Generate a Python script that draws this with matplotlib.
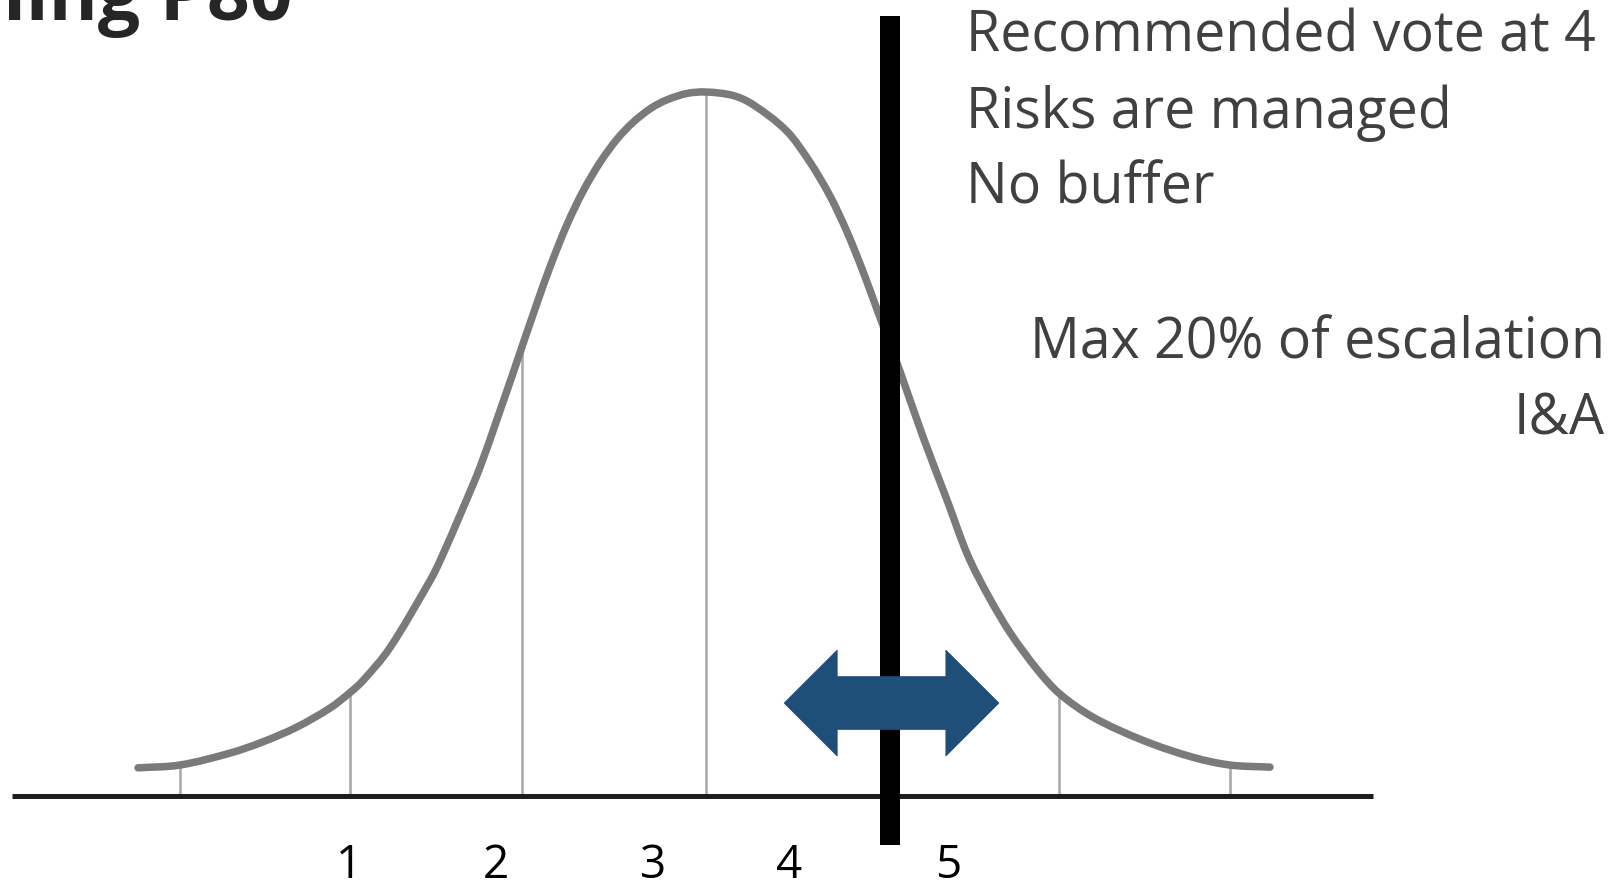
import numpy as np
import matplotlib
matplotlib.use("Agg")
import matplotlib.pyplot as plt
from matplotlib.patches import Polygon, PathPatch
from matplotlib.path import Path

# ---- data (x in standard deviations from the mean, y relative density: peak = 1) ----
curve_x = [-3.209, -2.972, -2.689, -2.503, -2.311, -2.124, -2.011, -1.938, -1.785,
           -1.559, -1.503, -1.373, -1.277, -1.181, -1.090, -1.040, -0.955, -0.881,
           -0.785, -0.695, -0.599, -0.503, -0.412, -0.311, -0.220, -0.107, 0.0,
           0.153, 0.266, 0.458, 0.588, 0.701, 0.797, 0.887, 0.972, 1.096, 1.226,
           1.362, 1.475, 1.593, 1.718, 1.870, 1.994, 2.186, 2.469, 2.751, 2.960, 3.186]
curve_y = [0.040, 0.044, 0.061, 0.077, 0.098, 0.125, 0.147, 0.164, 0.211,
           0.306, 0.334, 0.409, 0.467, 0.535, 0.601, 0.638, 0.700, 0.752,
           0.812, 0.859, 0.900, 0.933, 0.957, 0.977, 0.989, 0.998, 1.000,
           0.995, 0.982, 0.944, 0.900, 0.852, 0.801, 0.745, 0.687, 0.603, 0.510,
           0.420, 0.344, 0.285, 0.232, 0.180, 0.146, 0.112, 0.079, 0.055, 0.044, 0.041]
grid_x = [-2.972, -2.011, -1.040, 0.0, 1.040, 1.994, 2.960]
tick_pos = [-2.017, -1.186, -0.299, 0.469, 1.367]
tick_labels = ["1", "2", "3", "4", "5"]
threshold_x = 1.04
arrow_half_span = 0.607
arrow_y = 0.132
title = "Planning P80"
notes_left = ["Recommended vote at 4", "Risks are managed", "No buffer"]
notes_right = ["Max 20% of escalation", "I&A"]

FONT = ["Open Sans", "DejaVu Sans"]
TXT = "#404040"

fig = plt.figure(figsize=(16.19, 8.89), dpi=100)
ax = fig.add_axes([0, 0, 1, 1])
ax.set_xlim(-3.989, 5.158)
ax.set_ylim(-0.1321, 1.1307)
ax.axis("off")

# gridlines from baseline up to the curve
tops = np.interp(grid_x, curve_x, curve_y)
for gx, gt in zip(grid_x, tops):
    ax.plot([gx, gx], [0, gt], color="#aaaaaa", lw=1.9, zorder=1, solid_capstyle="butt")


# bell curve: smooth Bezier path through the read points (cubic Hermite handles in x)
def smooth_path(xs, ys):
    x = np.asarray(xs, float)
    yv = np.asarray(ys, float)
    n = len(x)
    m = np.empty(n)
    m[0] = (yv[1] - yv[0]) / (x[1] - x[0])
    m[-1] = (yv[-1] - yv[-2]) / (x[-1] - x[-2])
    m[1:-1] = (yv[2:] - yv[:-2]) / (x[2:] - x[:-2])
    verts = [(x[0], yv[0])]
    codes = [Path.MOVETO]
    for i in range(n - 1):
        dx = x[i + 1] - x[i]
        verts += [(x[i] + dx / 3, yv[i] + m[i] * dx / 3),
                  (x[i + 1] - dx / 3, yv[i + 1] - m[i + 1] * dx / 3),
                  (x[i + 1], yv[i + 1])]
        codes += [Path.CURVE4] * 3
    return Path(verts, codes)


ax.add_patch(PathPatch(smooth_path(curve_x, curve_y), facecolor="none",
                       edgecolor="#7a7a7a", lw=5.4, zorder=2,
                       capstyle="round", joinstyle="round"))

# baseline
ax.plot([-3.921, 3.768], [0, 0], color="#1e1e1e", lw=3.6, zorder=3, solid_capstyle="butt")

# threshold line
ax.plot([threshold_x, threshold_x], [-0.070, 1.108], color="black", lw=14.4,
        zorder=4, solid_capstyle="butt")

# double arrow
cx, y, hs = threshold_x + 0.008, arrow_y, arrow_half_span
hl, hh, sh = 0.30, 0.0753, 0.0376
pts = [(cx - hs, y), (cx - hs + hl, y + hh), (cx - hs + hl, y + sh), (cx + hs - hl, y + sh),
       (cx + hs - hl, y + hh), (cx + hs, y), (cx + hs - hl, y - hh), (cx + hs - hl, y - sh),
       (cx - hs + hl, y - sh), (cx - hs + hl, y - hh)]
ax.add_patch(Polygon(pts, closed=True, facecolor="#1f4e79", edgecolor="#1f4e79",
                     lw=0.5, zorder=5))

# tick labels
for p, lab in zip(tick_pos, tick_labels):
    ax.text(p, -0.1165, lab, ha="center", va="baseline", fontsize=33,
            family=FONT, color="black")

# notes
for i, line in enumerate(notes_left):
    ax.text(1.470, 1.057 - i * 0.108, line, ha="left", va="baseline",
            fontsize=40, family=FONT, color=TXT)
for i, line in enumerate(notes_right):
    ax.text(5.08, 0.622 - i * 0.109, line, ha="right", va="baseline",
            fontsize=40, family=FONT, color=TXT)

# cropped title
ax.text(-2.335, 1.102, title, ha="right", va="baseline", fontsize=54,
        fontweight="bold", family=FONT, color="#262626")

fig.savefig("out.png", dpi=100)
